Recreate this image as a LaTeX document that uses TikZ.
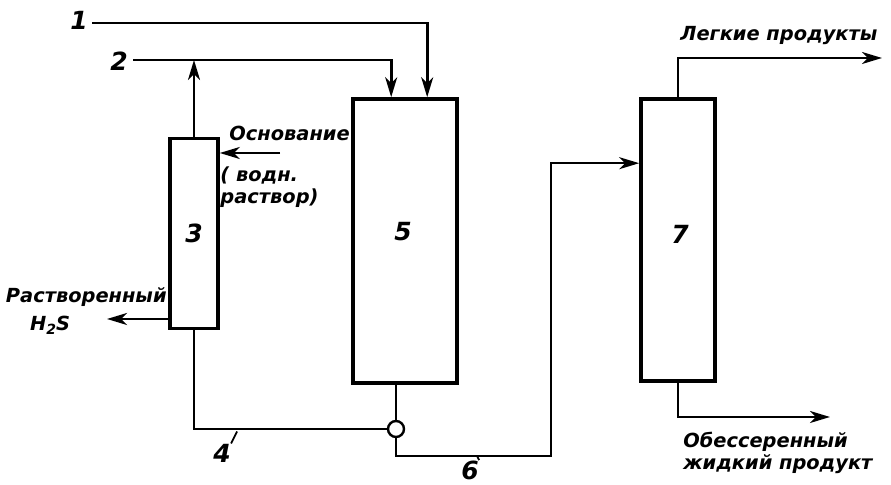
\documentclass[tikz,border=0pt]{standalone}
\usepackage{fontspec}
\setmainfont{DejaVu Sans}
\usetikzlibrary{arrows.meta,positioning,calc}

\begin{document}
\begin{tikzpicture}[
  x=0.5pt, y=-0.5pt,
  every node/.style={font=\fontsize{9.7}{11}\selectfont\bfseries\itshape, inner sep=0pt},
  column/.style={draw, rectangle, line width=1.8pt},
  tee/.style={draw, circle, line width=1.2pt, minimum size=8pt, fill=white},
  pipe/.style={line width=1.3pt},
  flow/.style={pipe, -{Stealth[length=10pt,width=6pt,inset=3pt]}},
  num/.style={font=\fontsize{12.5}{13}\selectfont\bfseries\itshape},
  lead/.style={line width=0.9pt}
]
\useasboundingbox (0,0) rectangle (891,485);

%% Columns
\node[column, minimum width=24pt, minimum height=95pt] (c3) at (194,233.5) {};
\node[column, minimum width=52pt, minimum height=142pt] (c5) at (405,241) {};
\node[column, minimum width=37pt, minimum height=141pt] (c7) at (678,240) {};
\node[num] (n3) at (194,233) {3};
\node[num] (n5) at (403,232) {5};
\node[num] (n7) at (680,234) {7};

%% Feeds 1 and 2
\coordinate (f1) at (92,23);
\coordinate (f2) at (133,60);
\node[num] (n1) at (79,20) {1};
\node[num] (n2) at (119,61) {2};
\draw[flow] (f1) -| ($(c5.north west)+(76,0)$);
\draw[flow] (f2) -| ($(c5.north west)+(40,0)$);
\draw[flow] (c3.north) -- (c3.north |- f2);

%% Base feed and H2S outlet
\coordinate (fb) at (280,153);
\coordinate (fh) at (107,319);
\draw[flow] (fb) -- (fb -| c3.east);
\draw[flow] (fh -| c3.west) -- (fh);
\node[anchor=west] (base) at (229,133) {Основание};
\node[anchor=north west, align=left] (sol) at (220,166) {( водн.\\раствор)};
\node[anchor=east] (hs) at (167,297) {Растворенный};
\node (h2s) at (50,325) {H\raisebox{-0.4ex}{\fontsize{7}{7}\selectfont 2}S};

%% Bottom lines 4 and 6
\node[tee] (t) at (396,429) {};
\draw[pipe] (c3.south) |- (t.west);
\draw[pipe] (t.north) -- (t.north |- c5.south);
\coordinate (k6) at (551,456);
\draw[flow] (t.south) |- (k6) |- ($(c7.north west)+(0,66)$);
\node[num] (n4) at (222,453) {4};
\node[num] (n6) at (470,470) {6};
\draw[lead] (n4.north east) -- ++(6,-12);
\draw[lead] (n6.north east) -- ++(-2,-4);

%% Products of column 7
\coordinate (fl) at (882,58);
\coordinate (fd) at (830,417);
\draw[flow] (c7.north) |- (fl);
\draw[flow] (c7.south) |- (fd);
\node[anchor=west] (lp) at (680,36) {Легкие продукты};
\node[anchor=north west, align=left] (dp) at (683,432) {Обессеренный\\жидкий продукт};
\end{tikzpicture}
\end{document}
